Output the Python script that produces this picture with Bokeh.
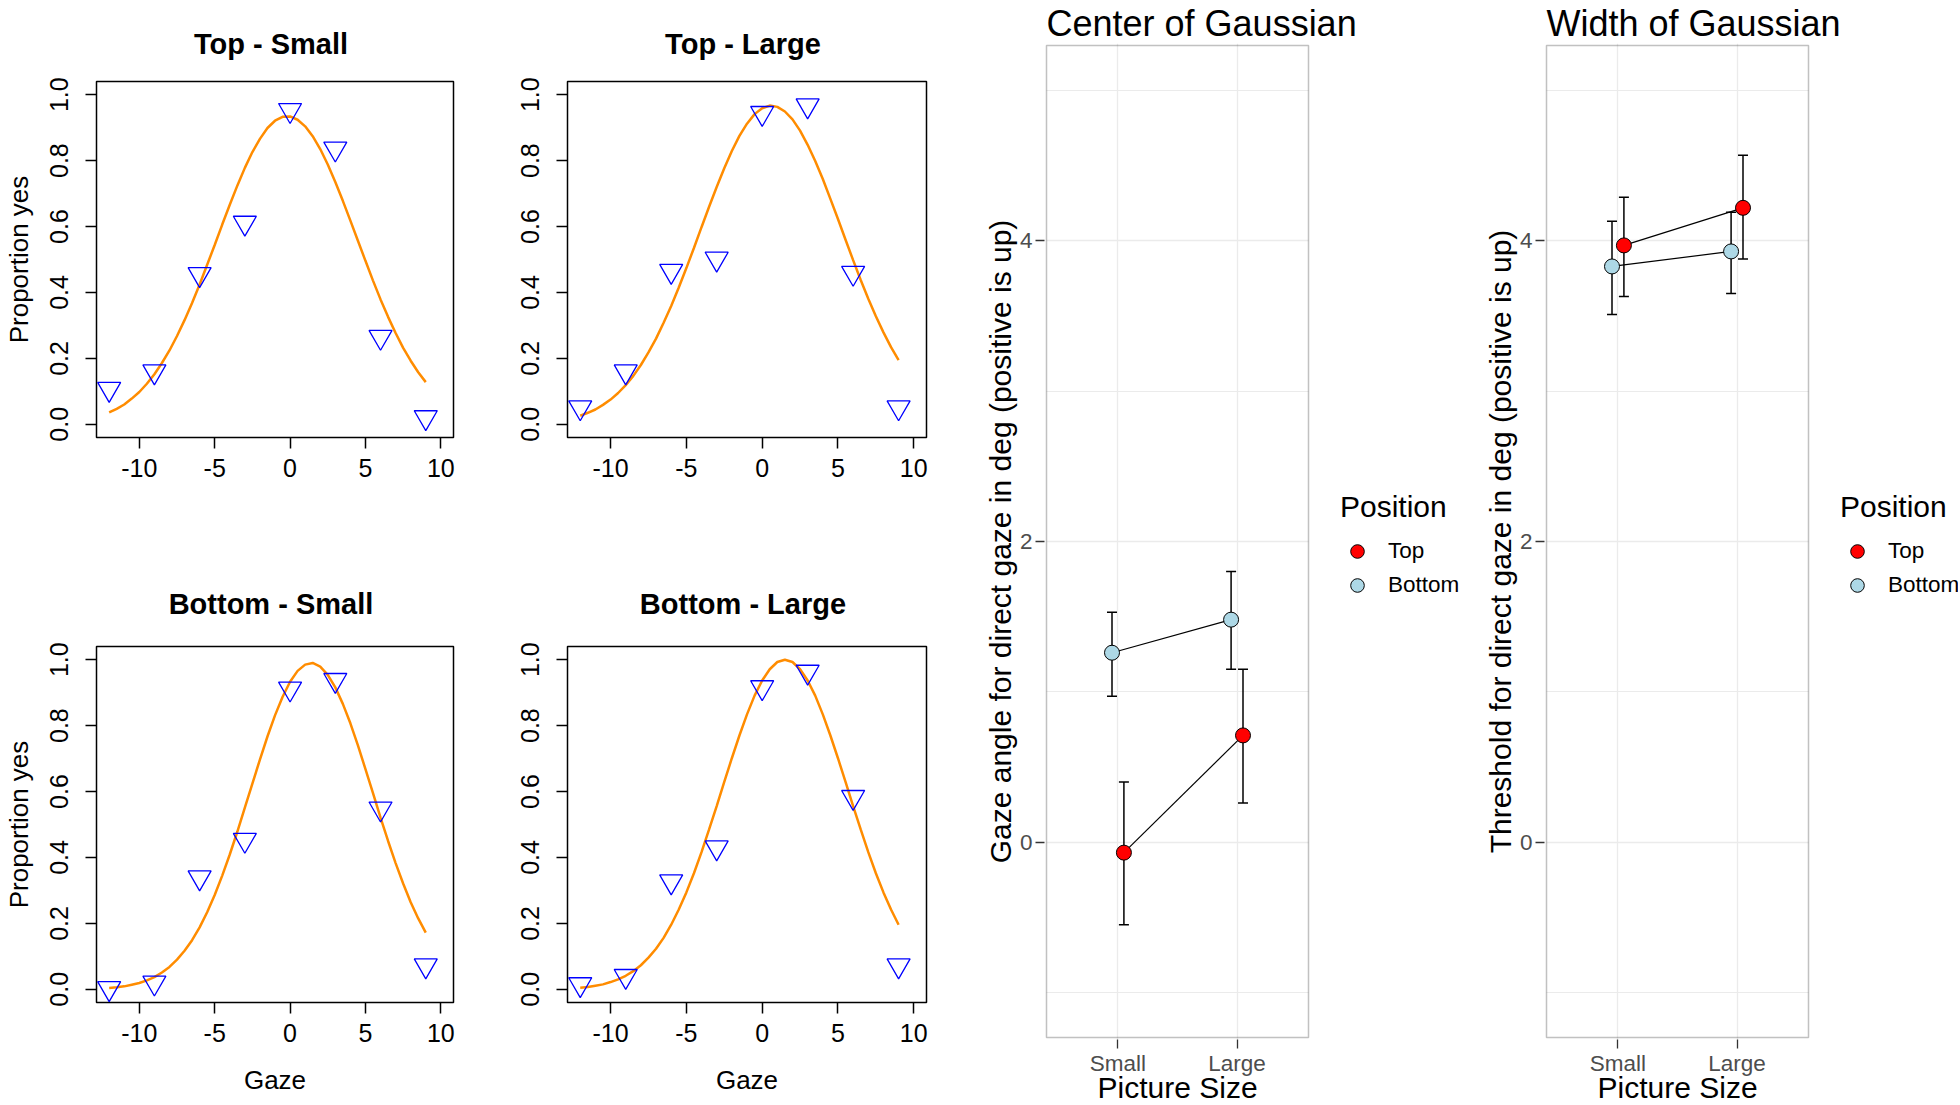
from bokeh.plotting import figure
from bokeh.layouts import row, column
from bokeh.models import (Range1d, FixedTicker, PrintfTickFormatter, BoxAnnotation,
                          ColumnDataSource, Legend, LegendItem, Title)
from bokeh.transform import dodge
from bokeh.embed import file_html
from bokeh.resources import INLINE

FONT = "Liberation Sans"

# ---------------- psychometric panels (left) ----------------
gaze = [-12, -9, -6, -3, 0, 3, 6, 9]
prop_top_small = [0.107, 0.160, 0.455, 0.611, 0.953, 0.836, 0.265, 0.021]
prop_top_large = [0.051, 0.160, 0.465, 0.502, 0.944, 0.967, 0.459, 0.051]
prop_bottom_small = [0.003, 0.020, 0.339, 0.453, 0.912, 0.938, 0.548, 0.072]
prop_bottom_large = [0.015, 0.040, 0.327, 0.430, 0.916, 0.963, 0.583, 0.072]

fit_gaze = [-12, -11.5, -11, -10.5, -10, -9.5, -9, -8.5, -8, -7.5, -7, -6.5, -6, -5.5,
            -5, -4.5, -4, -3.5, -3, -2.5, -2, -1.5, -1, -0.5, 0, 0.5, 1, 1.5, 2, 2.5,
            3, 3.5, 4, 4.5, 5, 5.5, 6, 6.5, 7, 7.5, 8, 8.5, 9]
fit_top_small = [0.036, 0.047, 0.060, 0.078, 0.098, 0.123, 0.152, 0.186, 0.224, 0.268,
                 0.316, 0.368, 0.424, 0.484, 0.544, 0.606, 0.666, 0.724, 0.778, 0.826,
                 0.866, 0.899, 0.921, 0.933, 0.934, 0.924, 0.904, 0.874, 0.835, 0.788,
                 0.735, 0.678, 0.618, 0.557, 0.496, 0.436, 0.379, 0.326, 0.277, 0.232,
                 0.193, 0.158, 0.128]
fit_top_large = [0.026, 0.035, 0.045, 0.059, 0.075, 0.095, 0.119, 0.147, 0.180, 0.218,
                 0.260, 0.308, 0.359, 0.415, 0.474, 0.535, 0.598, 0.660, 0.720, 0.777,
                 0.829, 0.875, 0.912, 0.941, 0.959, 0.967, 0.963, 0.949, 0.925, 0.891,
                 0.848, 0.799, 0.744, 0.684, 0.623, 0.560, 0.498, 0.438, 0.381, 0.328,
                 0.279, 0.234, 0.195]
fit_bottom_small = [0.004, 0.006, 0.009, 0.014, 0.019, 0.027, 0.037, 0.051, 0.068, 0.090,
                    0.117, 0.149, 0.188, 0.234, 0.286, 0.345, 0.409, 0.478, 0.551, 0.624,
                    0.697, 0.767, 0.831, 0.887, 0.933, 0.966, 0.985, 0.990, 0.979, 0.954,
                    0.916, 0.866, 0.807, 0.740, 0.668, 0.595, 0.521, 0.450, 0.383, 0.321,
                    0.264, 0.215, 0.172]
fit_bottom_large = [0.005, 0.007, 0.011, 0.015, 0.022, 0.030, 0.041, 0.055, 0.073, 0.096,
                    0.123, 0.156, 0.196, 0.242, 0.294, 0.352, 0.416, 0.485, 0.556, 0.629,
                    0.701, 0.770, 0.834, 0.891, 0.937, 0.971, 0.993, 1.000, 0.993, 0.971,
                    0.937, 0.891, 0.834, 0.770, 0.701, 0.629, 0.556, 0.485, 0.416, 0.352,
                    0.294, 0.242, 0.196]

panel_titles = ["Top  - Small", "Top  - Large", "Bottom  - Small", "Bottom  - Large"]
x_ticks = [-10, -5, 0, 5, 10]
y_ticks = [0.0, 0.2, 0.4, 0.6, 0.8, 1.0]

# ---------------- summary panels (right) ----------------
sizes = ["Small", "Large"]
positions = ["Top", "Bottom"]
center_top = [-0.07, 0.71]
center_top_lo = [-0.55, 0.26]
center_top_hi = [0.40, 1.15]
center_bottom = [1.26, 1.48]
center_bottom_lo = [0.97, 1.15]
center_bottom_hi = [1.53, 1.80]
width_top = [3.97, 4.22]
width_top_lo = [3.63, 3.88]
width_top_hi = [4.29, 4.57]
width_bottom = [3.83, 3.93]
width_bottom_lo = [3.51, 3.65]
width_bottom_hi = [4.13, 4.19]
gg_major = [0, 2, 4]
gg_minor = [-1, 1, 3, 5]
gg_ylim = (-1.3, 5.3)


def psy_panel(title, obs, fit, left, right, top, bottom, w, h, ylab, xlab, tstand):
    p = figure(title=title, width=w, height=h,
               min_border_left=left, min_border_right=right,
               min_border_top=top, min_border_bottom=bottom,
               x_range=Range1d(-12.84, 10.84), y_range=Range1d(-0.04, 1.04),
               output_backend="svg", toolbar_location=None)
    p.title.align = "center"
    p.title.text_font = FONT
    p.title.text_font_size = "29px"
    p.title.text_font_style = "bold"
    p.title.text_color = "black"
    p.title.standoff = tstand
    p.title.offset = -5
    p.grid.visible = False
    p.outline_line_color = "black"
    p.outline_line_width = 1.5
    p.line(fit_gaze, fit, line_color="#FF8C00", line_width=2.5)
    p.scatter(gaze, obs, marker="inverted_triangle", size=23, fill_color=None,
              line_color="#0000FF", line_width=1.3)
    xa = p.xaxis[0]
    ya = p.yaxis[0]
    xa.ticker = FixedTicker(ticks=x_ticks)
    xa.major_label_overrides = {-10: "-10", -5: "-5"}
    ya.ticker = FixedTicker(ticks=y_ticks)
    ya.formatter = PrintfTickFormatter(format="%.1f")
    ya.major_label_orientation = "vertical"
    for ax in (xa, ya):
        ax.axis_line_color = None
        ax.major_tick_out = 11
        ax.major_tick_in = 0
        ax.major_tick_line_color = "black"
        ax.major_tick_line_width = 1.5
        ax.minor_tick_line_color = None
        ax.major_label_text_font = FONT
        ax.major_label_text_font_size = "25px"
        ax.major_label_text_color = "black"
        ax.axis_label_text_font = FONT
        ax.axis_label_text_font_size = "26px"
        ax.axis_label_text_font_style = "normal"
        ax.axis_label_text_color = "black"
    xa.major_label_standoff = 10
    ya.major_label_standoff = 17
    if ylab:
        ya.axis_label = "Proportion yes"
        ya.axis_label_standoff = 14
    if xlab:
        xa.axis_label = "Gaze"
        xa.axis_label_standoff = 20
    return p


PX_X = 262 / 2.2      # pixels per category unit in the panel
PX_Y = 992 / 6.6      # pixels per y unit in the panel
PAD = 2               # pixels between frame edge and panel border


def gg_panel(title, ylab, top_y, top_lo, top_hi, bot_y, bot_lo, bot_hi, w):
    left_b, top_b, bottom_b = 84, 43, 65
    fw = w - left_b
    x0 = 0.4 - PAD / PX_X
    xr = Range1d(x0, x0 + fw / PX_X)
    yr = Range1d(gg_ylim[0] - PAD / PX_Y, gg_ylim[1] + PAD / PX_Y)
    p = figure(title=title, width=w, height=1104,
               min_border_left=left_b, min_border_right=0,
               min_border_top=top_b, min_border_bottom=bottom_b,
               x_range=xr, y_range=yr,
               output_backend="svg", toolbar_location=None)
    p.title.align = "left"
    p.title.offset = PAD
    p.title.text_font = FONT
    p.title.text_font_size = "36px"
    p.title.text_font_style = "normal"
    p.title.text_color = "black"
    p.title.standoff = 0
    p.outline_line_color = None

    xpos = [i + 1 for i in range(len(sizes))]
    xa = p.xaxis[0]
    ya = p.yaxis[0]
    xa.ticker = FixedTicker(ticks=xpos)
    xa.major_label_overrides = {xp: s for xp, s in zip(xpos, sizes)}
    xa.bounds = (0.4, len(sizes) + 0.6)
    ya.ticker = FixedTicker(ticks=gg_major, minor_ticks=gg_minor)
    for ax in (xa, ya):
        ax.axis_line_color = None
        ax.major_tick_out = 7 + PAD
        ax.major_tick_in = 0
        ax.major_tick_line_color = "#333333"
        ax.major_tick_line_width = 1.3
        ax.minor_tick_line_color = None
        ax.major_label_text_font = FONT
        ax.major_label_text_font_size = "22.5px"
        ax.major_label_text_color = "#4D4D4D"
        ax.axis_label_text_font = FONT
        ax.axis_label_text_font_size = "30px"
        ax.axis_label_text_font_style = "normal"
        ax.axis_label_text_color = "black"
    xa.major_label_standoff = 2
    ya.major_label_standoff = 3
    ya.axis_label = ylab
    ya.axis_label_standoff = 0

    # x-axis title, centred under the panel box (not the whole frame)
    xtitle = Title(text="Picture Size", align="left", offset=53,
                   text_font=FONT, text_font_size="30px", text_font_style="normal",
                   text_color="black")
    try:
        xtitle.standoff = -20
    except Exception:
        xtitle.standoff = 0
    p.add_layout(xtitle, "below")

    p.xgrid.grid_line_color = "#EBEBEB"
    p.xgrid.grid_line_width = 1.3
    yg = p.ygrid[0]
    if "cross_bounds" in yg.properties():
        yg.grid_line_color = "#EBEBEB"
        yg.grid_line_width = 1.3
        yg.minor_grid_line_color = "#EBEBEB"
        yg.minor_grid_line_width = 1.1
        yg.cross_bounds = (0.4, len(sizes) + 0.6)
    else:
        yg.visible = False
        gl = gg_minor + gg_major
        p.segment(x0=[0.4] * len(gl), x1=[len(sizes) + 0.6] * len(gl), y0=gl, y1=gl,
                  line_color="#EBEBEB", line_width=1.2, level="underlay")

    p.add_layout(BoxAnnotation(left=0.4, right=len(sizes) + 0.6,
                               bottom=gg_ylim[0], top=gg_ylim[1],
                               fill_alpha=0, fill_color=None,
                               line_color="#333333", line_width=1.5))

    src_top = ColumnDataSource(dict(x=xpos, y=top_y, lo=top_lo, hi=top_hi))
    src_bot = ColumnDataSource(dict(x=xpos, y=bot_y, lo=bot_lo, hi=bot_hi))
    groups = (("Bottom", src_bot, -0.05, "#ADD8E6"), ("Top", src_top, 0.05, "#FF0000"))
    for key, src, off, color in groups:
        xd = dodge("x", off)
        xl = dodge("x", off - 0.042)
        xrr = dodge("x", off + 0.042)
        p.segment(x0=xd, y0="lo", x1=xd, y1="hi", source=src, line_color="black", line_width=1.5)
        p.segment(x0=xl, y0="lo", x1=xrr, y1="lo", source=src, line_color="black", line_width=1.5)
        p.segment(x0=xl, y0="hi", x1=xrr, y1="hi", source=src, line_color="black", line_width=1.5)
        p.line(x=xd, y="y", source=src, line_color="black", line_width=1.2)
    rends = {}
    for key, src, off, color in groups:
        rends[key] = p.scatter(x=dodge("x", off), y="y", source=src, size=15,
                               fill_color=color, line_color="black", line_width=1)

    legend = Legend(items=[LegendItem(label=k, renderers=[rends[k]]) for k in positions],
                    location=(296, 437), title="Position", orientation="vertical")
    legend.title_text_font = FONT
    legend.title_text_font_size = "30px"
    legend.title_text_font_style = "normal"
    legend.title_text_color = "black"
    legend.title_standoff = 10
    legend.label_text_font = FONT
    legend.label_text_font_size = "22.5px"
    legend.label_text_color = "black"
    legend.glyph_width = 34
    legend.glyph_height = 34
    legend.label_height = 34
    legend.label_standoff = 14
    legend.spacing = 0
    legend.padding = 0
    legend.margin = 0
    legend.border_line_color = None
    legend.background_fill_alpha = 0
    p.add_layout(legend)
    return p


p1 = psy_panel(panel_titles[0], prop_top_small, fit_top_small, 95, 57, 81, 104, 510, 541, True, False, 44)
p2 = psy_panel(panel_titles[1], prop_top_large, fit_top_large, 57, 34, 81, 104, 450, 541, False, False, 44)
p3 = psy_panel(panel_titles[2], prop_bottom_small, fit_bottom_small, 95, 57, 105, 101, 510, 562, True, True, 53)
p4 = psy_panel(panel_titles[3], prop_bottom_large, fit_bottom_large, 57, 34, 105, 101, 450, 562, False, True, 53)

pc = gg_panel("Center of Gaussian", "Gaze angle for direct gaze in deg (positive is up)",
              center_top, center_top_lo, center_top_hi,
              center_bottom, center_bottom_lo, center_bottom_hi, 500)
pw = gg_panel("Width of Gaussian", "Threshold for direct gaze in deg (positive is up)",
              width_top, width_top_lo, width_top_hi,
              width_bottom, width_bottom_lo, width_bottom_hi, 498)

layout = row(column(row(p1, p2), row(p3, p4)), pc, pw)

open("out.html", "w").write(file_html(layout, INLINE))
